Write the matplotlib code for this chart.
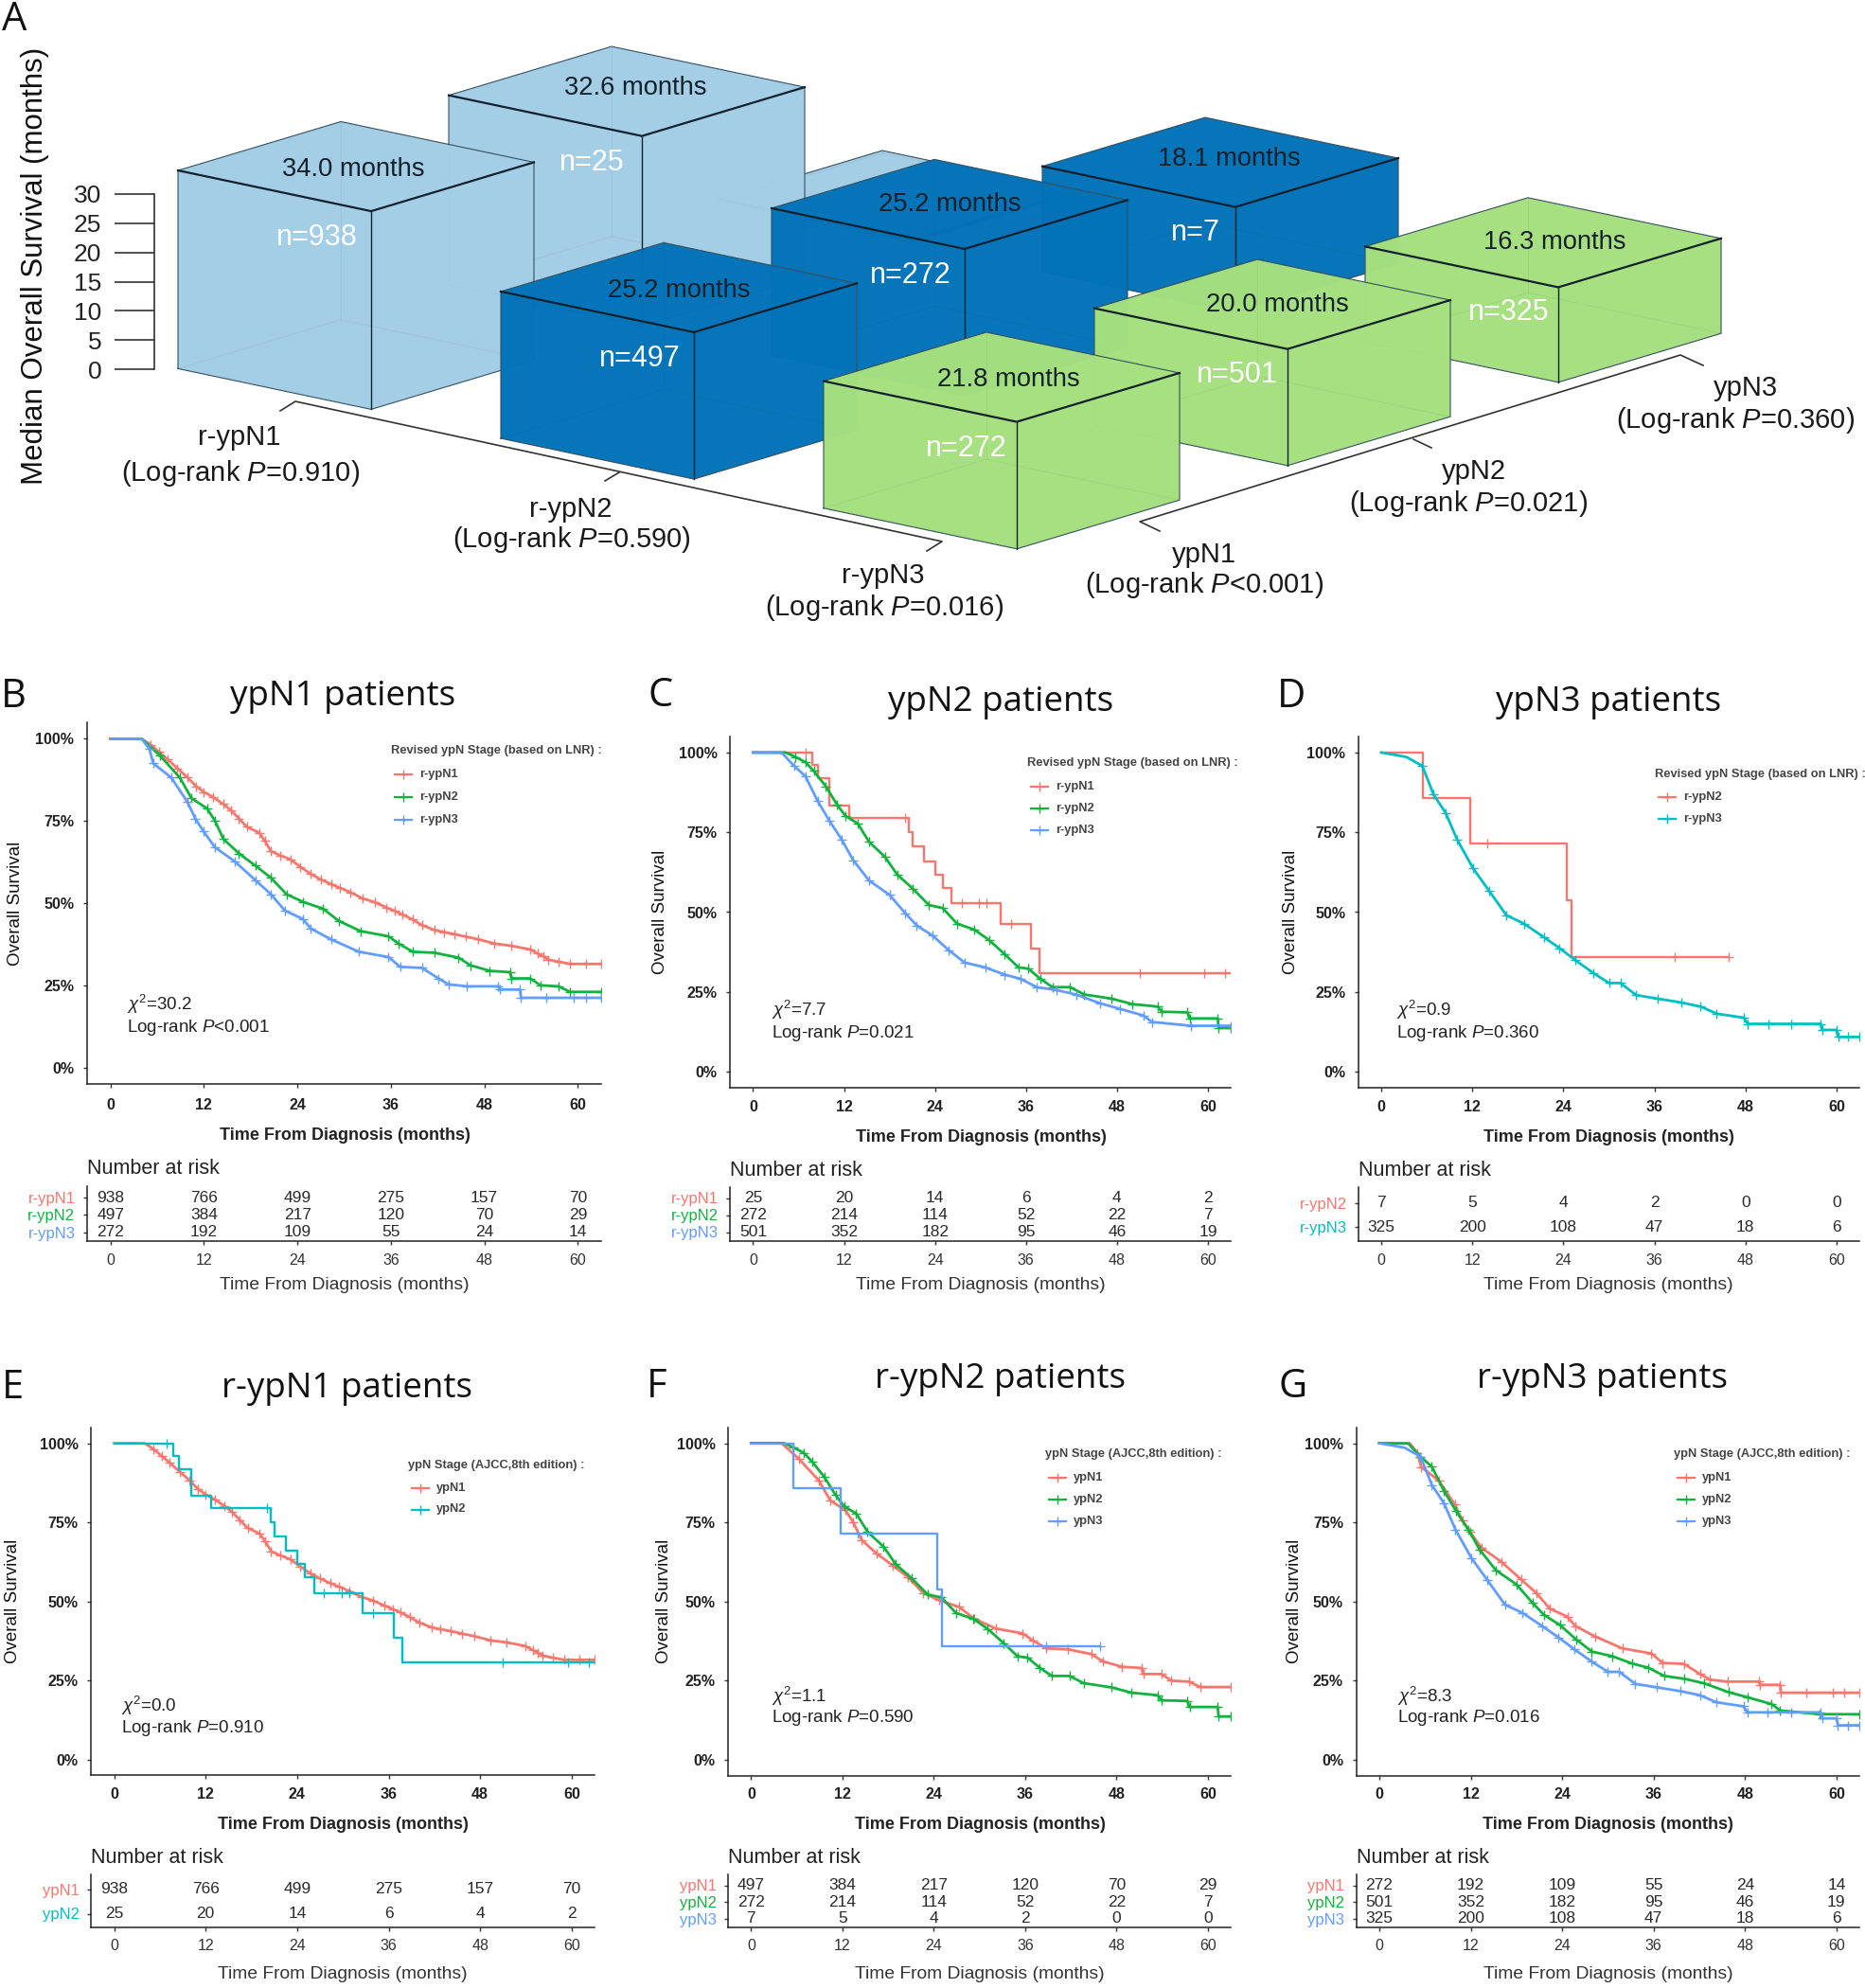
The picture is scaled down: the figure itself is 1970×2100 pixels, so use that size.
import matplotlib
matplotlib.use("Agg")
import matplotlib.pyplot as plt
from matplotlib.patches import Polygon

W, H = 1970, 2100
plt.rcParams["font.family"] = ["Liberation Sans", "DejaVu Sans"]
plt.rcParams["mathtext.fontset"] = "custom"
plt.rcParams["mathtext.rm"] = "Liberation Sans"
plt.rcParams["mathtext.it"] = "Liberation Sans:italic"
plt.rcParams["mathtext.bf"] = "Liberation Sans:bold"

# === panel A values ===
row_names = ["r-ypN1", "r-ypN2", "r-ypN3"]
col_names = ["ypN1", "ypN2", "ypN3"]
row_pvals = ["0.910", "0.590", "0.016"]
col_pvals = ["<0.001", "=0.021", "=0.360"]
median_os = [[34.0, 32.6, 0.45],
             [25.2, 25.2, 18.1],
             [21.8, 20.0, 16.3]]
n_patients = [[938, 25, None],
              [497, 272, 7],
              [272, 501, 325]]

# === survival curves (months, percent) ===
# every cohort shows up in two panels
r1_y1_t = [0, 4, 5.2, 6.2, 7.3, 8.6, 9.9, 11, 12, 13.2, 14.5, 15.5, 16.5, 17.5, 19.1, 19.8, 20.6, 21.8, 23.1, 24.4,
           25.7, 27, 28.3, 29.5, 30.8, 32.4, 33.9, 35.4, 36.5, 37.5, 38.8, 40, 41.6, 42.8, 44.1, 45.6, 47.2, 49.3,
           51.5, 53.9, 54.9, 55.6, 56.2, 57.5, 59, 61, 63]
r1_y1_p = [100, 100, 98.1, 96, 93.8, 91, 88.2, 85.5, 83.8, 82.2, 80.1, 78.2, 75.7, 73.2, 71.4, 69, 65.8, 64.5, 63.3, 61,
           58.9, 57.2, 55.8, 54.6, 53.3, 51.4, 50.3, 48.7, 47.6, 46.5, 45, 43.3, 41.8, 41.2, 40.6, 39.8, 39, 37.7,
           37, 35.9, 34.6, 33.8, 32.8, 32.2, 31.5, 31.5, 31.5]

r2_y1_t = [0, 4, 6.3, 8.9, 10.4, 12.4, 13.4, 14.5, 16.5, 18.6, 20.6, 22.6, 24.7, 27.3, 29.3, 32.1, 35.7, 37, 38.8, 41.6,
           44.7, 46.2, 48.7, 51.3, 51.5, 53.9, 55.2, 57.5, 59, 63]
r2_y1_p = [100, 100, 95, 88.2, 81.9, 78.8, 75.1, 69.5, 65.1, 61.4, 57.7, 52.7, 50.4, 48.3, 44.6, 41.5, 39.9, 37.7, 35.2, 34.9,
           33.4, 31.1, 29.4, 29, 27.1, 27.1, 25, 24.7, 23, 23]

r3_y1_t = [0, 4, 5, 5.5, 7.8, 9.9, 10.9, 11.9, 13.4, 16, 18.6, 20.6, 22.4, 24.7, 25.7, 28.3, 31.9, 35.7, 37.2, 40,
           42.1, 43.4, 45.7, 49.8, 50, 52.6, 52.7, 56, 59.5, 61, 63]
r3_y1_p = [100, 100, 96.9, 92.5, 88.2, 80.7, 75.7, 72, 67, 62.6, 57, 52.7, 47.7, 45.2, 42.3, 39, 35.2, 33.6, 30.6, 30.3,
           27.1, 25.3, 24.7, 24.7, 23.7, 23.7, 21.2, 21.2, 21.2, 21.2, 21.2]

r2_y2_t = [0, 4.3, 5.6, 6.9, 8, 9.6, 11.1, 12.2, 13.8, 15.3, 17.4, 19, 21.1, 23.2, 25, 26.9, 29.2, 31.1, 33.2, 35,
           36.3, 37.9, 39.5, 41.8, 43.7, 47.3, 50, 53.4, 53.9, 57.3, 57.6, 61.3, 61.4, 63]
r2_y2_p = [100, 100, 98.6, 97, 94.2, 89.4, 83.6, 80.1, 77.8, 72, 67.3, 61.8, 57.3, 52.2, 51.3, 46.4, 44.5, 41.3, 36.8, 32.7,
           32.3, 29.1, 26.5, 26.5, 24.2, 22.9, 21.2, 20.4, 18.8, 18.6, 16.7, 16.7, 13.7, 13.7]

r3_y2_t = [0, 3.8, 5.4, 6.9, 8.5, 10.1, 11.7, 13.2, 15.3, 18, 20.1, 21.6, 23.7, 25.8, 27.9, 30.6, 33.2, 35.3, 37.4, 40,
           42.6, 45.8, 48.4, 51.5, 52.6, 57.8, 63]
r3_y2_p = [100, 99.9, 95.8, 92.6, 84.9, 78.5, 72.7, 66.3, 59.9, 55.4, 49.6, 45.8, 42.6, 38.1, 34.2, 32.7, 30.4, 29.1, 26.5, 25.6,
           24.2, 21.4, 19.7, 17.6, 15.6, 14.4, 14.4]

r3_y3_t = [0, 3.3, 5.4, 6.9, 8.5, 10, 12.1, 14.2, 16.5, 18.8, 21.4, 23.5, 25.6, 27.9, 30, 31.5, 33.6, 36.4, 39.5, 42.1,
           44.2, 47.8, 48.3, 51, 54, 57.9, 58.1, 60, 60.2, 61.5, 63]
r3_y3_p = [100, 98.6, 95.8, 86.8, 81, 72.7, 63.7, 56.7, 49, 46.4, 42.2, 38.7, 34.9, 31, 27.8, 27.8, 24, 22.9, 21.7, 20.4,
           18.2, 16.9, 15, 15, 15, 15, 13.1, 13.1, 10.9, 10.9, 10.9]

# few patients, real steps
r1_y2_t = [0, 7.8, 8.5, 10.1, 12.7, 20.6, 21, 22.5, 24, 25, 26.2, 32.6, 36.7, 37.8, 63]
r1_y2_p = [100, 96, 91.9, 83.3, 79.4, 75, 70.5, 66, 61.7, 57.6, 52.7, 46.2, 38.5, 30.8, 30.8]
r1_y2_cens_t = [6.9, 20, 27.5, 29.8, 30.8, 34, 51, 59.5, 62.3]
r1_y2_cens_p = [100, 79.4, 52.7, 52.7, 52.7, 46.2, 30.8, 30.8, 30.8]

r2_y3_t = [0, 5.5, 11.75, 24.4, 25.1, 45.8]
r2_y3_p = [100, 85.8, 71.5, 53.7, 35.9, 35.9]
r2_y3_cens_t = [14, 38.7, 45.8]
r2_y3_cens_p = [71.5, 35.9, 35.9]

# === number at risk tables ===
risk_b = [[938, 766, 499, 275, 157, 70], [497, 384, 217, 120, 70, 29], [272, 192, 109, 55, 24, 14]]
risk_c = [[25, 20, 14, 6, 4, 2], [272, 214, 114, 52, 22, 7], [501, 352, 182, 95, 46, 19]]
risk_d = [[7, 5, 4, 2, 0, 0], [325, 200, 108, 47, 18, 6]]
risk_e = [[938, 766, 499, 275, 157, 70], [25, 20, 14, 6, 4, 2]]
risk_f = [[497, 384, 217, 120, 70, 29], [272, 214, 114, 52, 22, 7], [7, 5, 4, 2, 0, 0]]
risk_g = [[272, 192, 109, 55, 24, 14], [501, 352, 182, 95, 46, 19], [325, 200, 108, 47, 18, 6]]
month_ticks = [0, 12, 24, 36, 48, 60]
pct_ticks = [0, 25, 50, 75, 100]

RED, GREEN, BLUE, TEAL = "#F8766D", "#12B23F", "#619CFF", "#00BFC4"
LIGHT, DARK, LIME = "#A3CEE6", "#0273B8", "#A6E07F"

R1Y1 = (r1_y1_t, r1_y1_p, None, None)
R2Y1 = (r2_y1_t, r2_y1_p, None, None)
R3Y1 = (r3_y1_t, r3_y1_p, None, None)
R1Y2 = (r1_y2_t, r1_y2_p, r1_y2_cens_t, r1_y2_cens_p)
R2Y2 = (r2_y2_t, r2_y2_p, None, None)
R3Y2 = (r3_y2_t, r3_y2_p, None, None)
R2Y3 = (r2_y3_t, r2_y3_p, r2_y3_cens_t, r2_y3_cens_p)
R3Y3 = (r3_y3_t, r3_y3_p, None, None)

LNR_TITLE = "Revised ypN Stage (based on LNR) :"
AJCC_TITLE = "ypN Stage (AJCC,8th edition) :"

# pixel layout of the six survival panels
panels = [
    dict(letter="B", letter_xy=(14, 736), title="ypN1 patients", title_xy=(362, 736),
         box=(92, 635, 763, 1145), table=(1253, 1311), rows=(1265, 1283.3, 1301.5), ylabel_xy=(17, 954),
         stat=("30.2", "<0.001"), stat_xy=(134, 1061, 1085), xlabel=364, xlab_y=(1167, 1199, 1235, 1331, 1358),
         leg_title=LNR_TITLE, leg_xy=(413, 793), leg_y=(818, 842, 866),
         names=["r-ypN1", "r-ypN2", "r-ypN3"], colors=[RED, GREEN, BLUE], curves=[R1Y1, R2Y1, R3Y1], risk=risk_b),
    dict(letter="C", letter_xy=(698, 735), title="ypN2 patients", title_xy=(1057, 742),
         box=(771.4, 1300, 778, 1149), table=(1254, 1311), rows=(1265.5, 1283.5, 1301.5), ylabel_xy=(697, 963),
         stat=("7.7", "=0.021"), stat_xy=(815, 1067, 1091.5), xlabel=1036, xlab_y=(1170, 1201, 1237, 1331, 1357),
         leg_title=LNR_TITLE, leg_xy=(1085, 806), leg_y=(831, 854, 877),
         names=["r-ypN1", "r-ypN2", "r-ypN3"], colors=[RED, GREEN, BLUE], curves=[R1Y2, R2Y2, R3Y2], risk=risk_c),
    dict(letter="D", letter_xy=(1364, 736), title="ypN3 patients", title_xy=(1699, 742),
         box=(1435, 1964, 778, 1149), table=(1254, 1311), rows=(1270.7, 1296.3), ylabel_xy=(1364, 963),
         stat=("0.9", "=0.360"), stat_xy=(1475, 1067, 1091.5), xlabel=1699, xlab_y=(1170, 1201, 1237, 1331, 1357),
         leg_title=LNR_TITLE, leg_xy=(1748, 818), leg_y=(842, 865),
         names=["r-ypN2", "r-ypN3"], colors=[RED, TEAL], curves=[R2Y3, R3Y3], risk=risk_d),
    dict(letter="E", letter_xy=(14, 1466), title="r-ypN1 patients", title_xy=(366, 1467),
         box=(96.4, 628, 1507.8, 1875.3), table=(1980.4, 2036), rows=(1996, 2021.5), ylabel_xy=(14, 1691.5),
         stat=("0.0", "=0.910"), stat_xy=(127.5, 1802, 1825), xlabel=362, xlab_y=(1895.5, 1927, 1962.5, 2056, 2086),
         leg_title=AJCC_TITLE, leg_xy=(431, 1547.5), leg_y=(1571.5, 1594.5),
         names=["ypN1", "ypN2"], colors=[RED, TEAL], curves=[R1Y1, R1Y2], risk=risk_e),
    dict(letter="F", letter_xy=(694, 1465), title="r-ypN2 patients", title_xy=(1056, 1457),
         box=(769.3, 1300, 1507.8, 1875.7), table=(1980.4, 2036.4), rows=(1991.5, 2009, 2026.6), ylabel_xy=(702, 1691.5),
         stat=("1.1", "=0.590"), stat_xy=(815, 1792.4, 1814.6), xlabel=1035, xlab_y=(1896, 1927, 1962.5, 2056, 2086),
         leg_title=AJCC_TITLE, leg_xy=(1104.3, 1536.4), leg_y=(1560.8, 1583.8, 1607),
         names=["ypN1", "ypN2", "ypN3"], colors=[RED, GREEN, BLUE], curves=[R2Y1, R2Y2, R2Y3], risk=risk_f),
    dict(letter="G", letter_xy=(1366, 1465), title="r-ypN3 patients", title_xy=(1693, 1457),
         box=(1432.8, 1964, 1507.8, 1875.7), table=(1980.4, 2036.4), rows=(1991.5, 2009, 2026.6), ylabel_xy=(1368, 1691.5),
         stat=("8.3", "=0.016"), stat_xy=(1475.5, 1792.4, 1814.6), xlabel=1698.5, xlab_y=(1896, 1927, 1962.5, 2056, 2086),
         leg_title=AJCC_TITLE, leg_xy=(1767.8, 1536.4), leg_y=(1560.8, 1583.8, 1607),
         names=["ypN1", "ypN2", "ypN3"], colors=[RED, GREEN, BLUE], curves=[R3Y1, R3Y2, R3Y3], risk=risk_g),
]

fig = plt.figure(figsize=(W / 100, H / 100), dpi=100)


def px_axes(left, right, top, bottom):
    ax = fig.add_axes([left / W, 1 - bottom / H, (right - left) / W, (bottom - top) / H])
    for side in ["top", "right"]:
        ax.spines[side].set_visible(False)
    for side in ["left", "bottom"]:
        ax.spines[side].set_linewidth(1.1)
        ax.spines[side].set_color("#222222")
    return ax


# overlay in pixel coordinates, for panel A and the loose texts
over = fig.add_axes([0, 0, 1, 1], zorder=5)
over.set_xlim(0, W)
over.set_ylim(H, 0)
over.axis("off")
over.patch.set_alpha(0)

# === panel A ===
ORIGIN = (188, 389.4)
EDGE_A = (204, 43)
EDGE_B = (172, -51.6)
STEP_ROW = (341, 73.7)
STEP_COL = (286, -88)
MONTH_PX = 6.157
bar_colors = [LIGHT, DARK, LIME]
# hand nudges of the cube labels, pixels
months_nudge = {(0, 0): (-3, 3), (0, 1): (9, -3), (1, 0): (0, 3), (1, 1): (0, 0), (1, 2): (9, -3),
                (2, 0): (7, 3), (2, 1): (5, 1), (2, 2): (12, 0)}
n_nudge = {(0, 0): (0, 0), (0, 1): (4, 0), (1, 0): (0, 0), (1, 1): (0, 0), (1, 2): (15, -1),
           (2, 0): (4, 0), (2, 1): (4, -1), (2, 2): (5, -1)}


def draw_cube(r, c, months, n, color, z):
    lx = ORIGIN[0] + r * STEP_ROW[0] + c * STEP_COL[0]
    ly = ORIGIN[1] + r * STEP_ROW[1] + c * STEP_COL[1]
    h = months * MONTH_PX
    fx, fy = lx + EDGE_A[0], ly + EDGE_A[1]
    rx, ry = fx + EDGE_B[0], fy + EDGE_B[1]
    bx, by = lx + EDGE_B[0], ly + EDGE_B[1]
    faces = [[(lx, ly), (fx, fy), (fx, fy - h), (lx, ly - h)],
             [(fx, fy), (rx, ry), (rx, ry - h), (fx, fy - h)],
             [(lx, ly - h), (fx, fy - h), (rx, ry - h), (bx, by - h)]]
    for f in faces:
        over.add_patch(Polygon(f, closed=True, fc=color, ec="none", alpha=0.985, zorder=z))
    # faint inner edges showing through
    over.plot([bx, bx], [by, by - h], color="#333333", lw=0.6, alpha=0.07, zorder=z + 0.1)
    over.plot([lx, bx, rx], [ly, by, ry], color="#333333", lw=0.6, alpha=0.07, zorder=z + 0.1)
    # outer edges
    over.plot([lx, lx, bx, rx, rx, fx, lx], [ly, ly - h, by - h, ry - h, ry, fy, ly],
              color="#35505f", lw=0.8, zorder=z + 0.2)
    over.plot([fx, fx], [fy, fy - h], color="#10202c", lw=1.0, zorder=z + 0.2)
    over.plot([lx, fx, rx], [ly - h, fy - h, ry - h], color="#10202c", lw=1.6, zorder=z + 0.3)
    if n is not None:
        mdx, mdy = months_nudge[(r, c)]
        ndx, ndy = n_nudge[(r, c)]
        over.text(lx + (EDGE_A[0] + EDGE_B[0]) / 2 + mdx, ly - h + (EDGE_A[1] + EDGE_B[1]) / 2 + mdy,
                  f"{months:.1f} months", ha="center", va="center", fontsize=19.7, color="#14202a", zorder=z + 0.4)
        over.text(lx + 147 + ndx, ly - h + 71 + ndy, f"n={n}", ha="center", va="center", fontsize=22,
                  color="white", zorder=z + 0.4)


z = 10
for c in [2, 1, 0]:
    for r in [0, 1, 2]:
        draw_cube(r, c, median_os[r][c], n_patients[r][c], bar_colors[r], z)
        z += 1

# small value axis left of the cubes
ax_scale = px_axes(163, 164, 205, 390)
ax_scale.set_ylim(0, 30)
ax_scale.set_yticks([0, 5, 10, 15, 20, 25, 30])
ax_scale.set_xticks([])
ax_scale.spines["bottom"].set_visible(False)
ax_scale.patch.set_alpha(0)
ax_scale.tick_params(axis="y", length=30, width=1.1, labelsize=19, pad=10, color="#222222", labelcolor="#222222")
over.text(37, 281, "Median Overall Survival (months)", rotation=90, ha="center", va="center",
          fontsize=22.5, color="#111111")

# category axes under the cubes
over.plot([296, 312, 995, 979], [434, 424, 572, 582], color="#333333", lw=1.2, zorder=50)
over.plot([654, 639], [499, 508], color="#333333", lw=1.2, zorder=50)
over.plot([1225, 1204, 1775, 1799], [561, 551, 375, 386], color="#333333", lw=1.2, zorder=50)
over.plot([1493, 1512], [464, 473], color="#333333", lw=1.2, zorder=50)

row_lab_xy = [(253, 462.5, 254, 499.5), (603, 537.5, 604, 569.5), (933, 608.5, 934, 641.5)]
col_lab_xy = [(1272, 585.5, 1272, 617.5), (1557, 498.5, 1551, 531.5), (1844, 409.5, 1833, 443.5)]
for name, pval, (x1, y1, x2, y2) in zip(row_names, row_pvals, row_lab_xy):
    over.text(x1, y1, name, ha="center", va="center", fontsize=21, color="#1a1a1a")
    over.text(x2, y2, f"(Log-rank $\\mathit{{P}}$={pval})", ha="center", va="center", fontsize=21, color="#1a1a1a")
for name, pval, (x1, y1, x2, y2) in zip(col_names, col_pvals, col_lab_xy):
    over.text(x1, y1, name, ha="center", va="center", fontsize=21, color="#1a1a1a")
    over.text(x2, y2, f"(Log-rank $\\mathit{{P}}${pval})", ha="center", va="center", fontsize=21, color="#1a1a1a")

over.text(15, 21, "A", ha="center", va="center", fontsize=30, family="Open Sans", color="#111111")

# === survival panels ===
for p in panels:
    left, right, top, bottom = p["box"]
    ax = px_axes(left, right, top, bottom)
    ax.set_xlim(-3, 63)
    ax.set_ylim(-5, 105)
    for curve, col in zip(p["curves"], p["colors"]):
        t, s, ct, cs = curve
        if ct is None:
            ax.plot(t, s, color=col, lw=2.0, zorder=3)
            ax.plot(t[2:], s[2:], "+", color=col, ms=7, mew=1.0, zorder=3)
        else:
            ax.step(t, s, where="post", color=col, lw=1.7, zorder=3)
            ax.plot(ct, cs, "+", color=col, ms=7, mew=0.9, zorder=3)
    ax.set_xticks(month_ticks)
    ax.set_yticks(pct_ticks)
    ax.set_yticklabels([f"{v}%" for v in pct_ticks])
    ax.tick_params(axis="both", length=3, width=1, color="#333333", labelcolor="#222222", labelsize=11.5, pad=9)
    for lab in ax.get_xticklabels() + ax.get_yticklabels():
        lab.set_fontweight("bold")
    ax.tick_params(axis="y", pad=7)
    ax.tick_params(axis="x", labelbottom=False)

    # table
    tab_top, tab_bottom = p["table"]
    rows = p["rows"]
    step = rows[1] - rows[0]
    ax_t = px_axes(left, right, tab_top, tab_bottom)
    ax_t.set_xlim(-3, 63)
    ax_t.set_ylim((tab_bottom - rows[0]) / step, (tab_top - rows[0]) / step)
    ax_t.set_xticks(month_ticks)
    ax_t.set_yticks(range(len(rows)))
    ax_t.set_yticklabels(p["names"])
    for lab, col in zip(ax_t.get_yticklabels(), p["colors"]):
        lab.set_color(col)
    ax_t.tick_params(axis="both", length=3, width=1, color="#333333", labelsize=12, pad=6)
    ax_t.tick_params(axis="x", labelbottom=False)
    for i, vals in enumerate(p["risk"]):
        for m, v in zip(month_ticks, vals):
            ax_t.text(m, i, str(v), ha="center", va="center", fontsize=12.5, color="#2a2a2a")

    tick_y, xlab_y, nrisk_y, tab_tick_y, tab_xlab_y = p["xlab_y"]
    x_px = [left + (m + 3) / 66 * (right - left) for m in month_ticks]
    for m, xp in zip(month_ticks, x_px):
        over.text(xp, tick_y, str(m), ha="center", va="center", fontsize=11.5, fontweight="bold", color="#222222")
        over.text(xp, tab_tick_y, str(m), ha="center", va="center", fontsize=11.5, color="#333333")
    over.text(p["xlabel"], xlab_y, "Time From Diagnosis (months)", ha="center", va="center",
              fontsize=13, fontweight="bold", color="#222222")
    over.text(p["xlabel"], tab_xlab_y, "Time From Diagnosis (months)", ha="center", va="center",
              fontsize=13.9, color="#333333")
    over.text(left, nrisk_y, "Number at risk", ha="left", va="center", fontsize=15.5, color="#222222")
    over.text(p["ylabel_xy"][0], p["ylabel_xy"][1], "Overall Survival", rotation=90, ha="center", va="center",
              fontsize=13.5, color="#111111")

    chi, pv = p["stat"]
    sx, sy1, sy2 = p["stat_xy"]
    over.text(sx, sy1, f"$\\chi^2$={chi}", ha="left", va="center", fontsize=13.5, color="#222222")
    over.text(sx, sy2, f"Log-rank $\\mathit{{P}}${pv}", ha="left", va="center", fontsize=13.5, color="#222222")

    # legend
    lx, ly = p["leg_xy"]
    over.text(lx, ly, p["leg_title"], ha="left", va="center", fontsize=9.3, fontweight="bold", color="#444444")
    for name, col, y in zip(p["names"], p["colors"], p["leg_y"]):
        over.plot([lx + 4, lx + 22], [y, y], color=col, lw=1.6)
        over.plot([lx + 13], [y], "+", color=col, ms=7, mew=1)
        over.text(lx + 30, y, name, ha="left", va="center", fontsize=9.3, fontweight="bold", color="#444444")

    over.text(p["title_xy"][0], p["title_xy"][1], p["title"], ha="center", va="center",
              fontsize=26.5, family="Open Sans", color="#111111")
    over.text(p["letter_xy"][0], p["letter_xy"][1], p["letter"], ha="center", va="center",
              fontsize=30, family="Open Sans", color="#111111")

fig.savefig("out.png", dpi=100)
